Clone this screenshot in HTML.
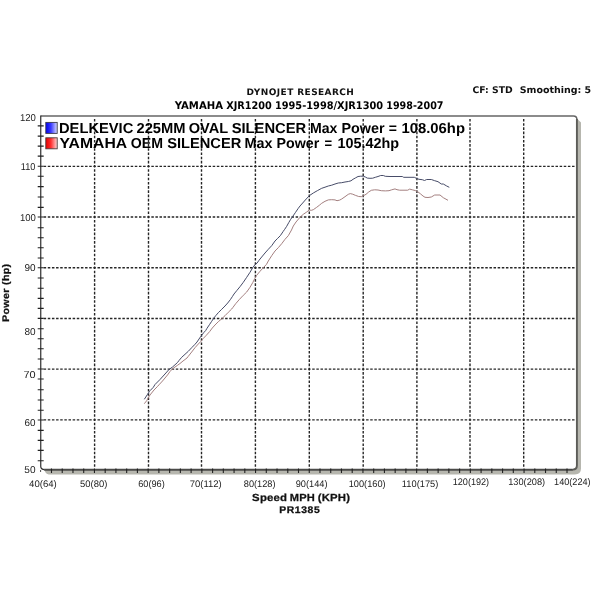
<!DOCTYPE html>
<html><head><meta charset="utf-8"><style>html,body{margin:0;padding:0;background:#fff;}svg{display:block}text{text-rendering:geometricPrecision}</style></head>
<body><svg width="600" height="600" viewBox="0 0 600 600">
<rect width="600" height="600" fill="#fff"/>
<path d="M576.4,118.1 L581.0,122.6 V468.6 Q581.0,474.5 574.9,474.5 H48.75 Q45.75,474.5 44.25,469.6 Z" fill="#b6b6ae"/>
<path d="M40.75,466.6 V116.1 H573.4 Q576.9,116.1 576.9,119.6 V465.6 Q576.9,469.6 572.9,469.6 H44.75 Q40.75,469.6 40.75,466.6" fill="#fff"/>
<path d="M94.6,118.98v2.60M94.6,123.17v2.60M94.6,127.35v2.60M94.6,131.53v2.60M94.6,135.72v2.60M94.6,139.90v2.60M94.6,144.08v2.60M94.6,148.27v2.60M94.6,152.45v2.60M94.6,156.63v2.60M94.6,160.82v2.60M94.6,165.00v2.60M94.6,169.22v2.60M94.6,173.45v2.60M94.6,177.68v2.60M94.6,181.90v2.60M94.6,186.12v2.60M94.6,190.35v2.60M94.6,194.57v2.60M94.6,198.80v2.60M94.6,203.02v2.60M94.6,207.25v2.60M94.6,211.47v2.60M94.6,215.70v2.60M94.6,219.92v2.60M94.6,224.15v2.60M94.6,228.38v2.60M94.6,232.60v2.60M94.6,236.82v2.60M94.6,241.05v2.60M94.6,245.27v2.60M94.6,249.50v2.60M94.6,253.72v2.60M94.6,257.95v2.60M94.6,262.17v2.60M94.6,266.40v2.60M94.6,270.63v2.60M94.6,274.87v2.60M94.6,279.10v2.60M94.6,283.33v2.60M94.6,287.57v2.60M94.6,291.80v2.60M94.6,296.03v2.60M94.6,300.27v2.60M94.6,304.50v2.60M94.6,308.73v2.60M94.6,312.97v2.60M94.6,317.20v2.60M94.6,321.42v2.60M94.6,325.63v2.60M94.6,329.85v2.60M94.6,334.07v2.60M94.6,338.28v2.60M94.6,342.50v2.60M94.6,346.72v2.60M94.6,350.93v2.60M94.6,355.15v2.60M94.6,359.37v2.60M94.6,363.58v2.60M94.6,367.80v2.60M94.6,372.03v2.60M94.6,376.25v2.60M94.6,380.48v2.60M94.6,384.70v2.60M94.6,388.93v2.60M94.6,393.15v2.60M94.6,397.38v2.60M94.6,401.60v2.60M94.6,405.82v2.60M94.6,410.05v2.60M94.6,414.27v2.60M94.6,418.50v2.60M94.6,422.65v2.60M94.6,426.80v2.60M94.6,430.95v2.60M94.6,435.10v2.60M94.6,439.25v2.60M94.6,443.40v2.60M94.6,447.55v2.60M94.6,451.70v2.60M94.6,455.85v2.60M94.6,460.00v2.60M94.6,464.15v2.60M148.5,118.98v2.60M148.5,123.17v2.60M148.5,127.35v2.60M148.5,131.53v2.60M148.5,135.72v2.60M148.5,139.90v2.60M148.5,144.08v2.60M148.5,148.27v2.60M148.5,152.45v2.60M148.5,156.63v2.60M148.5,160.82v2.60M148.5,165.00v2.60M148.5,169.22v2.60M148.5,173.45v2.60M148.5,177.68v2.60M148.5,181.90v2.60M148.5,186.12v2.60M148.5,190.35v2.60M148.5,194.57v2.60M148.5,198.80v2.60M148.5,203.02v2.60M148.5,207.25v2.60M148.5,211.47v2.60M148.5,215.70v2.60M148.5,219.92v2.60M148.5,224.15v2.60M148.5,228.38v2.60M148.5,232.60v2.60M148.5,236.82v2.60M148.5,241.05v2.60M148.5,245.27v2.60M148.5,249.50v2.60M148.5,253.72v2.60M148.5,257.95v2.60M148.5,262.17v2.60M148.5,266.40v2.60M148.5,270.63v2.60M148.5,274.87v2.60M148.5,279.10v2.60M148.5,283.33v2.60M148.5,287.57v2.60M148.5,291.80v2.60M148.5,296.03v2.60M148.5,300.27v2.60M148.5,304.50v2.60M148.5,308.73v2.60M148.5,312.97v2.60M148.5,317.20v2.60M148.5,321.42v2.60M148.5,325.63v2.60M148.5,329.85v2.60M148.5,334.07v2.60M148.5,338.28v2.60M148.5,342.50v2.60M148.5,346.72v2.60M148.5,350.93v2.60M148.5,355.15v2.60M148.5,359.37v2.60M148.5,363.58v2.60M148.5,367.80v2.60M148.5,372.03v2.60M148.5,376.25v2.60M148.5,380.48v2.60M148.5,384.70v2.60M148.5,388.93v2.60M148.5,393.15v2.60M148.5,397.38v2.60M148.5,401.60v2.60M148.5,405.82v2.60M148.5,410.05v2.60M148.5,414.27v2.60M148.5,418.50v2.60M148.5,422.65v2.60M148.5,426.80v2.60M148.5,430.95v2.60M148.5,435.10v2.60M148.5,439.25v2.60M148.5,443.40v2.60M148.5,447.55v2.60M148.5,451.70v2.60M148.5,455.85v2.60M148.5,460.00v2.60M148.5,464.15v2.60M201.5,118.98v2.60M201.5,123.17v2.60M201.5,127.35v2.60M201.5,131.53v2.60M201.5,135.72v2.60M201.5,139.90v2.60M201.5,144.08v2.60M201.5,148.27v2.60M201.5,152.45v2.60M201.5,156.63v2.60M201.5,160.82v2.60M201.5,165.00v2.60M201.5,169.22v2.60M201.5,173.45v2.60M201.5,177.68v2.60M201.5,181.90v2.60M201.5,186.12v2.60M201.5,190.35v2.60M201.5,194.57v2.60M201.5,198.80v2.60M201.5,203.02v2.60M201.5,207.25v2.60M201.5,211.47v2.60M201.5,215.70v2.60M201.5,219.92v2.60M201.5,224.15v2.60M201.5,228.38v2.60M201.5,232.60v2.60M201.5,236.82v2.60M201.5,241.05v2.60M201.5,245.27v2.60M201.5,249.50v2.60M201.5,253.72v2.60M201.5,257.95v2.60M201.5,262.17v2.60M201.5,266.40v2.60M201.5,270.63v2.60M201.5,274.87v2.60M201.5,279.10v2.60M201.5,283.33v2.60M201.5,287.57v2.60M201.5,291.80v2.60M201.5,296.03v2.60M201.5,300.27v2.60M201.5,304.50v2.60M201.5,308.73v2.60M201.5,312.97v2.60M201.5,317.20v2.60M201.5,321.42v2.60M201.5,325.63v2.60M201.5,329.85v2.60M201.5,334.07v2.60M201.5,338.28v2.60M201.5,342.50v2.60M201.5,346.72v2.60M201.5,350.93v2.60M201.5,355.15v2.60M201.5,359.37v2.60M201.5,363.58v2.60M201.5,367.80v2.60M201.5,372.03v2.60M201.5,376.25v2.60M201.5,380.48v2.60M201.5,384.70v2.60M201.5,388.93v2.60M201.5,393.15v2.60M201.5,397.38v2.60M201.5,401.60v2.60M201.5,405.82v2.60M201.5,410.05v2.60M201.5,414.27v2.60M201.5,418.50v2.60M201.5,422.65v2.60M201.5,426.80v2.60M201.5,430.95v2.60M201.5,435.10v2.60M201.5,439.25v2.60M201.5,443.40v2.60M201.5,447.55v2.60M201.5,451.70v2.60M201.5,455.85v2.60M201.5,460.00v2.60M201.5,464.15v2.60M255.4,118.98v2.60M255.4,123.17v2.60M255.4,127.35v2.60M255.4,131.53v2.60M255.4,135.72v2.60M255.4,139.90v2.60M255.4,144.08v2.60M255.4,148.27v2.60M255.4,152.45v2.60M255.4,156.63v2.60M255.4,160.82v2.60M255.4,165.00v2.60M255.4,169.22v2.60M255.4,173.45v2.60M255.4,177.68v2.60M255.4,181.90v2.60M255.4,186.12v2.60M255.4,190.35v2.60M255.4,194.57v2.60M255.4,198.80v2.60M255.4,203.02v2.60M255.4,207.25v2.60M255.4,211.47v2.60M255.4,215.70v2.60M255.4,219.92v2.60M255.4,224.15v2.60M255.4,228.38v2.60M255.4,232.60v2.60M255.4,236.82v2.60M255.4,241.05v2.60M255.4,245.27v2.60M255.4,249.50v2.60M255.4,253.72v2.60M255.4,257.95v2.60M255.4,262.17v2.60M255.4,266.40v2.60M255.4,270.63v2.60M255.4,274.87v2.60M255.4,279.10v2.60M255.4,283.33v2.60M255.4,287.57v2.60M255.4,291.80v2.60M255.4,296.03v2.60M255.4,300.27v2.60M255.4,304.50v2.60M255.4,308.73v2.60M255.4,312.97v2.60M255.4,317.20v2.60M255.4,321.42v2.60M255.4,325.63v2.60M255.4,329.85v2.60M255.4,334.07v2.60M255.4,338.28v2.60M255.4,342.50v2.60M255.4,346.72v2.60M255.4,350.93v2.60M255.4,355.15v2.60M255.4,359.37v2.60M255.4,363.58v2.60M255.4,367.80v2.60M255.4,372.03v2.60M255.4,376.25v2.60M255.4,380.48v2.60M255.4,384.70v2.60M255.4,388.93v2.60M255.4,393.15v2.60M255.4,397.38v2.60M255.4,401.60v2.60M255.4,405.82v2.60M255.4,410.05v2.60M255.4,414.27v2.60M255.4,418.50v2.60M255.4,422.65v2.60M255.4,426.80v2.60M255.4,430.95v2.60M255.4,435.10v2.60M255.4,439.25v2.60M255.4,443.40v2.60M255.4,447.55v2.60M255.4,451.70v2.60M255.4,455.85v2.60M255.4,460.00v2.60M255.4,464.15v2.60M309.3,118.98v2.60M309.3,123.17v2.60M309.3,127.35v2.60M309.3,131.53v2.60M309.3,135.72v2.60M309.3,139.90v2.60M309.3,144.08v2.60M309.3,148.27v2.60M309.3,152.45v2.60M309.3,156.63v2.60M309.3,160.82v2.60M309.3,165.00v2.60M309.3,169.22v2.60M309.3,173.45v2.60M309.3,177.68v2.60M309.3,181.90v2.60M309.3,186.12v2.60M309.3,190.35v2.60M309.3,194.57v2.60M309.3,198.80v2.60M309.3,203.02v2.60M309.3,207.25v2.60M309.3,211.47v2.60M309.3,215.70v2.60M309.3,219.92v2.60M309.3,224.15v2.60M309.3,228.38v2.60M309.3,232.60v2.60M309.3,236.82v2.60M309.3,241.05v2.60M309.3,245.27v2.60M309.3,249.50v2.60M309.3,253.72v2.60M309.3,257.95v2.60M309.3,262.17v2.60M309.3,266.40v2.60M309.3,270.63v2.60M309.3,274.87v2.60M309.3,279.10v2.60M309.3,283.33v2.60M309.3,287.57v2.60M309.3,291.80v2.60M309.3,296.03v2.60M309.3,300.27v2.60M309.3,304.50v2.60M309.3,308.73v2.60M309.3,312.97v2.60M309.3,317.20v2.60M309.3,321.42v2.60M309.3,325.63v2.60M309.3,329.85v2.60M309.3,334.07v2.60M309.3,338.28v2.60M309.3,342.50v2.60M309.3,346.72v2.60M309.3,350.93v2.60M309.3,355.15v2.60M309.3,359.37v2.60M309.3,363.58v2.60M309.3,367.80v2.60M309.3,372.03v2.60M309.3,376.25v2.60M309.3,380.48v2.60M309.3,384.70v2.60M309.3,388.93v2.60M309.3,393.15v2.60M309.3,397.38v2.60M309.3,401.60v2.60M309.3,405.82v2.60M309.3,410.05v2.60M309.3,414.27v2.60M309.3,418.50v2.60M309.3,422.65v2.60M309.3,426.80v2.60M309.3,430.95v2.60M309.3,435.10v2.60M309.3,439.25v2.60M309.3,443.40v2.60M309.3,447.55v2.60M309.3,451.70v2.60M309.3,455.85v2.60M309.3,460.00v2.60M309.3,464.15v2.60M363.2,118.98v2.60M363.2,123.17v2.60M363.2,127.35v2.60M363.2,131.53v2.60M363.2,135.72v2.60M363.2,139.90v2.60M363.2,144.08v2.60M363.2,148.27v2.60M363.2,152.45v2.60M363.2,156.63v2.60M363.2,160.82v2.60M363.2,165.00v2.60M363.2,169.22v2.60M363.2,173.45v2.60M363.2,177.68v2.60M363.2,181.90v2.60M363.2,186.12v2.60M363.2,190.35v2.60M363.2,194.57v2.60M363.2,198.80v2.60M363.2,203.02v2.60M363.2,207.25v2.60M363.2,211.47v2.60M363.2,215.70v2.60M363.2,219.92v2.60M363.2,224.15v2.60M363.2,228.38v2.60M363.2,232.60v2.60M363.2,236.82v2.60M363.2,241.05v2.60M363.2,245.27v2.60M363.2,249.50v2.60M363.2,253.72v2.60M363.2,257.95v2.60M363.2,262.17v2.60M363.2,266.40v2.60M363.2,270.63v2.60M363.2,274.87v2.60M363.2,279.10v2.60M363.2,283.33v2.60M363.2,287.57v2.60M363.2,291.80v2.60M363.2,296.03v2.60M363.2,300.27v2.60M363.2,304.50v2.60M363.2,308.73v2.60M363.2,312.97v2.60M363.2,317.20v2.60M363.2,321.42v2.60M363.2,325.63v2.60M363.2,329.85v2.60M363.2,334.07v2.60M363.2,338.28v2.60M363.2,342.50v2.60M363.2,346.72v2.60M363.2,350.93v2.60M363.2,355.15v2.60M363.2,359.37v2.60M363.2,363.58v2.60M363.2,367.80v2.60M363.2,372.03v2.60M363.2,376.25v2.60M363.2,380.48v2.60M363.2,384.70v2.60M363.2,388.93v2.60M363.2,393.15v2.60M363.2,397.38v2.60M363.2,401.60v2.60M363.2,405.82v2.60M363.2,410.05v2.60M363.2,414.27v2.60M363.2,418.50v2.60M363.2,422.65v2.60M363.2,426.80v2.60M363.2,430.95v2.60M363.2,435.10v2.60M363.2,439.25v2.60M363.2,443.40v2.60M363.2,447.55v2.60M363.2,451.70v2.60M363.2,455.85v2.60M363.2,460.00v2.60M363.2,464.15v2.60M416.9,118.98v2.60M416.9,123.17v2.60M416.9,127.35v2.60M416.9,131.53v2.60M416.9,135.72v2.60M416.9,139.90v2.60M416.9,144.08v2.60M416.9,148.27v2.60M416.9,152.45v2.60M416.9,156.63v2.60M416.9,160.82v2.60M416.9,165.00v2.60M416.9,169.22v2.60M416.9,173.45v2.60M416.9,177.68v2.60M416.9,181.90v2.60M416.9,186.12v2.60M416.9,190.35v2.60M416.9,194.57v2.60M416.9,198.80v2.60M416.9,203.02v2.60M416.9,207.25v2.60M416.9,211.47v2.60M416.9,215.70v2.60M416.9,219.92v2.60M416.9,224.15v2.60M416.9,228.38v2.60M416.9,232.60v2.60M416.9,236.82v2.60M416.9,241.05v2.60M416.9,245.27v2.60M416.9,249.50v2.60M416.9,253.72v2.60M416.9,257.95v2.60M416.9,262.17v2.60M416.9,266.40v2.60M416.9,270.63v2.60M416.9,274.87v2.60M416.9,279.10v2.60M416.9,283.33v2.60M416.9,287.57v2.60M416.9,291.80v2.60M416.9,296.03v2.60M416.9,300.27v2.60M416.9,304.50v2.60M416.9,308.73v2.60M416.9,312.97v2.60M416.9,317.20v2.60M416.9,321.42v2.60M416.9,325.63v2.60M416.9,329.85v2.60M416.9,334.07v2.60M416.9,338.28v2.60M416.9,342.50v2.60M416.9,346.72v2.60M416.9,350.93v2.60M416.9,355.15v2.60M416.9,359.37v2.60M416.9,363.58v2.60M416.9,367.80v2.60M416.9,372.03v2.60M416.9,376.25v2.60M416.9,380.48v2.60M416.9,384.70v2.60M416.9,388.93v2.60M416.9,393.15v2.60M416.9,397.38v2.60M416.9,401.60v2.60M416.9,405.82v2.60M416.9,410.05v2.60M416.9,414.27v2.60M416.9,418.50v2.60M416.9,422.65v2.60M416.9,426.80v2.60M416.9,430.95v2.60M416.9,435.10v2.60M416.9,439.25v2.60M416.9,443.40v2.60M416.9,447.55v2.60M416.9,451.70v2.60M416.9,455.85v2.60M416.9,460.00v2.60M416.9,464.15v2.60M470.0,118.98v2.60M470.0,123.17v2.60M470.0,127.35v2.60M470.0,131.53v2.60M470.0,135.72v2.60M470.0,139.90v2.60M470.0,144.08v2.60M470.0,148.27v2.60M470.0,152.45v2.60M470.0,156.63v2.60M470.0,160.82v2.60M470.0,165.00v2.60M470.0,169.22v2.60M470.0,173.45v2.60M470.0,177.68v2.60M470.0,181.90v2.60M470.0,186.12v2.60M470.0,190.35v2.60M470.0,194.57v2.60M470.0,198.80v2.60M470.0,203.02v2.60M470.0,207.25v2.60M470.0,211.47v2.60M470.0,215.70v2.60M470.0,219.92v2.60M470.0,224.15v2.60M470.0,228.38v2.60M470.0,232.60v2.60M470.0,236.82v2.60M470.0,241.05v2.60M470.0,245.27v2.60M470.0,249.50v2.60M470.0,253.72v2.60M470.0,257.95v2.60M470.0,262.17v2.60M470.0,266.40v2.60M470.0,270.63v2.60M470.0,274.87v2.60M470.0,279.10v2.60M470.0,283.33v2.60M470.0,287.57v2.60M470.0,291.80v2.60M470.0,296.03v2.60M470.0,300.27v2.60M470.0,304.50v2.60M470.0,308.73v2.60M470.0,312.97v2.60M470.0,317.20v2.60M470.0,321.42v2.60M470.0,325.63v2.60M470.0,329.85v2.60M470.0,334.07v2.60M470.0,338.28v2.60M470.0,342.50v2.60M470.0,346.72v2.60M470.0,350.93v2.60M470.0,355.15v2.60M470.0,359.37v2.60M470.0,363.58v2.60M470.0,367.80v2.60M470.0,372.03v2.60M470.0,376.25v2.60M470.0,380.48v2.60M470.0,384.70v2.60M470.0,388.93v2.60M470.0,393.15v2.60M470.0,397.38v2.60M470.0,401.60v2.60M470.0,405.82v2.60M470.0,410.05v2.60M470.0,414.27v2.60M470.0,418.50v2.60M470.0,422.65v2.60M470.0,426.80v2.60M470.0,430.95v2.60M470.0,435.10v2.60M470.0,439.25v2.60M470.0,443.40v2.60M470.0,447.55v2.60M470.0,451.70v2.60M470.0,455.85v2.60M470.0,460.00v2.60M470.0,464.15v2.60M523.7,118.98v2.60M523.7,123.17v2.60M523.7,127.35v2.60M523.7,131.53v2.60M523.7,135.72v2.60M523.7,139.90v2.60M523.7,144.08v2.60M523.7,148.27v2.60M523.7,152.45v2.60M523.7,156.63v2.60M523.7,160.82v2.60M523.7,165.00v2.60M523.7,169.22v2.60M523.7,173.45v2.60M523.7,177.68v2.60M523.7,181.90v2.60M523.7,186.12v2.60M523.7,190.35v2.60M523.7,194.57v2.60M523.7,198.80v2.60M523.7,203.02v2.60M523.7,207.25v2.60M523.7,211.47v2.60M523.7,215.70v2.60M523.7,219.92v2.60M523.7,224.15v2.60M523.7,228.38v2.60M523.7,232.60v2.60M523.7,236.82v2.60M523.7,241.05v2.60M523.7,245.27v2.60M523.7,249.50v2.60M523.7,253.72v2.60M523.7,257.95v2.60M523.7,262.17v2.60M523.7,266.40v2.60M523.7,270.63v2.60M523.7,274.87v2.60M523.7,279.10v2.60M523.7,283.33v2.60M523.7,287.57v2.60M523.7,291.80v2.60M523.7,296.03v2.60M523.7,300.27v2.60M523.7,304.50v2.60M523.7,308.73v2.60M523.7,312.97v2.60M523.7,317.20v2.60M523.7,321.42v2.60M523.7,325.63v2.60M523.7,329.85v2.60M523.7,334.07v2.60M523.7,338.28v2.60M523.7,342.50v2.60M523.7,346.72v2.60M523.7,350.93v2.60M523.7,355.15v2.60M523.7,359.37v2.60M523.7,363.58v2.60M523.7,367.80v2.60M523.7,372.03v2.60M523.7,376.25v2.60M523.7,380.48v2.60M523.7,384.70v2.60M523.7,388.93v2.60M523.7,393.15v2.60M523.7,397.38v2.60M523.7,401.60v2.60M523.7,405.82v2.60M523.7,410.05v2.60M523.7,414.27v2.60M523.7,418.50v2.60M523.7,422.65v2.60M523.7,426.80v2.60M523.7,430.95v2.60M523.7,435.10v2.60M523.7,439.25v2.60M523.7,443.40v2.60M523.7,447.55v2.60M523.7,451.70v2.60M523.7,455.85v2.60M523.7,460.00v2.60M523.7,464.15v2.60" stroke="#262626" stroke-width="1.4" fill="none"/>
<path d="M43.64,166.3h2.50M47.78,166.3h2.50M51.93,166.3h2.50M56.07,166.3h2.50M60.21,166.3h2.50M64.35,166.3h2.50M68.50,166.3h2.50M72.64,166.3h2.50M76.78,166.3h2.50M80.92,166.3h2.50M85.07,166.3h2.50M89.21,166.3h2.50M93.35,166.3h2.50M97.50,166.3h2.50M101.64,166.3h2.50M105.79,166.3h2.50M109.93,166.3h2.50M114.08,166.3h2.50M118.23,166.3h2.50M122.37,166.3h2.50M126.52,166.3h2.50M130.67,166.3h2.50M134.81,166.3h2.50M138.96,166.3h2.50M143.10,166.3h2.50M147.25,166.3h2.50M151.33,166.3h2.50M155.40,166.3h2.50M159.48,166.3h2.50M163.56,166.3h2.50M167.63,166.3h2.50M171.71,166.3h2.50M175.79,166.3h2.50M179.87,166.3h2.50M183.94,166.3h2.50M188.02,166.3h2.50M192.10,166.3h2.50M196.17,166.3h2.50M200.25,166.3h2.50M204.40,166.3h2.50M208.54,166.3h2.50M212.69,166.3h2.50M216.83,166.3h2.50M220.98,166.3h2.50M225.13,166.3h2.50M229.27,166.3h2.50M233.42,166.3h2.50M237.57,166.3h2.50M241.71,166.3h2.50M245.86,166.3h2.50M250.00,166.3h2.50M254.15,166.3h2.50M258.30,166.3h2.50M262.44,166.3h2.50M266.59,166.3h2.50M270.73,166.3h2.50M274.88,166.3h2.50M279.03,166.3h2.50M283.17,166.3h2.50M287.32,166.3h2.50M291.47,166.3h2.50M295.61,166.3h2.50M299.76,166.3h2.50M303.90,166.3h2.50M308.05,166.3h2.50M312.20,166.3h2.50M316.34,166.3h2.50M320.49,166.3h2.50M324.63,166.3h2.50M328.78,166.3h2.50M332.93,166.3h2.50M337.07,166.3h2.50M341.22,166.3h2.50M345.37,166.3h2.50M349.51,166.3h2.50M353.66,166.3h2.50M357.80,166.3h2.50M361.95,166.3h2.50M366.08,166.3h2.50M370.21,166.3h2.50M374.34,166.3h2.50M378.47,166.3h2.50M382.60,166.3h2.50M386.73,166.3h2.50M390.87,166.3h2.50M395.00,166.3h2.50M399.13,166.3h2.50M403.26,166.3h2.50M407.39,166.3h2.50M411.52,166.3h2.50M415.65,166.3h2.50M419.73,166.3h2.50M423.82,166.3h2.50M427.90,166.3h2.50M431.99,166.3h2.50M436.07,166.3h2.50M440.16,166.3h2.50M444.24,166.3h2.50M448.33,166.3h2.50M452.41,166.3h2.50M456.50,166.3h2.50M460.58,166.3h2.50M464.67,166.3h2.50M468.75,166.3h2.50M472.88,166.3h2.50M477.01,166.3h2.50M481.14,166.3h2.50M485.27,166.3h2.50M489.40,166.3h2.50M493.53,166.3h2.50M497.67,166.3h2.50M501.80,166.3h2.50M505.93,166.3h2.50M510.06,166.3h2.50M514.19,166.3h2.50M518.32,166.3h2.50M522.45,166.3h2.50M526.58,166.3h2.50M530.71,166.3h2.50M534.84,166.3h2.50M538.97,166.3h2.50M543.10,166.3h2.50M547.23,166.3h2.50M551.37,166.3h2.50M555.50,166.3h2.50M559.63,166.3h2.50M563.76,166.3h2.50M567.89,166.3h2.50M572.02,166.3h2.50M43.64,217.0h2.50M47.78,217.0h2.50M51.93,217.0h2.50M56.07,217.0h2.50M60.21,217.0h2.50M64.35,217.0h2.50M68.50,217.0h2.50M72.64,217.0h2.50M76.78,217.0h2.50M80.92,217.0h2.50M85.07,217.0h2.50M89.21,217.0h2.50M93.35,217.0h2.50M97.50,217.0h2.50M101.64,217.0h2.50M105.79,217.0h2.50M109.93,217.0h2.50M114.08,217.0h2.50M118.23,217.0h2.50M122.37,217.0h2.50M126.52,217.0h2.50M130.67,217.0h2.50M134.81,217.0h2.50M138.96,217.0h2.50M143.10,217.0h2.50M147.25,217.0h2.50M151.33,217.0h2.50M155.40,217.0h2.50M159.48,217.0h2.50M163.56,217.0h2.50M167.63,217.0h2.50M171.71,217.0h2.50M175.79,217.0h2.50M179.87,217.0h2.50M183.94,217.0h2.50M188.02,217.0h2.50M192.10,217.0h2.50M196.17,217.0h2.50M200.25,217.0h2.50M204.40,217.0h2.50M208.54,217.0h2.50M212.69,217.0h2.50M216.83,217.0h2.50M220.98,217.0h2.50M225.13,217.0h2.50M229.27,217.0h2.50M233.42,217.0h2.50M237.57,217.0h2.50M241.71,217.0h2.50M245.86,217.0h2.50M250.00,217.0h2.50M254.15,217.0h2.50M258.30,217.0h2.50M262.44,217.0h2.50M266.59,217.0h2.50M270.73,217.0h2.50M274.88,217.0h2.50M279.03,217.0h2.50M283.17,217.0h2.50M287.32,217.0h2.50M291.47,217.0h2.50M295.61,217.0h2.50M299.76,217.0h2.50M303.90,217.0h2.50M308.05,217.0h2.50M312.20,217.0h2.50M316.34,217.0h2.50M320.49,217.0h2.50M324.63,217.0h2.50M328.78,217.0h2.50M332.93,217.0h2.50M337.07,217.0h2.50M341.22,217.0h2.50M345.37,217.0h2.50M349.51,217.0h2.50M353.66,217.0h2.50M357.80,217.0h2.50M361.95,217.0h2.50M366.08,217.0h2.50M370.21,217.0h2.50M374.34,217.0h2.50M378.47,217.0h2.50M382.60,217.0h2.50M386.73,217.0h2.50M390.87,217.0h2.50M395.00,217.0h2.50M399.13,217.0h2.50M403.26,217.0h2.50M407.39,217.0h2.50M411.52,217.0h2.50M415.65,217.0h2.50M419.73,217.0h2.50M423.82,217.0h2.50M427.90,217.0h2.50M431.99,217.0h2.50M436.07,217.0h2.50M440.16,217.0h2.50M444.24,217.0h2.50M448.33,217.0h2.50M452.41,217.0h2.50M456.50,217.0h2.50M460.58,217.0h2.50M464.67,217.0h2.50M468.75,217.0h2.50M472.88,217.0h2.50M477.01,217.0h2.50M481.14,217.0h2.50M485.27,217.0h2.50M489.40,217.0h2.50M493.53,217.0h2.50M497.67,217.0h2.50M501.80,217.0h2.50M505.93,217.0h2.50M510.06,217.0h2.50M514.19,217.0h2.50M518.32,217.0h2.50M522.45,217.0h2.50M526.58,217.0h2.50M530.71,217.0h2.50M534.84,217.0h2.50M538.97,217.0h2.50M543.10,217.0h2.50M547.23,217.0h2.50M551.37,217.0h2.50M555.50,217.0h2.50M559.63,217.0h2.50M563.76,217.0h2.50M567.89,217.0h2.50M572.02,217.0h2.50M43.64,267.7h2.50M47.78,267.7h2.50M51.93,267.7h2.50M56.07,267.7h2.50M60.21,267.7h2.50M64.35,267.7h2.50M68.50,267.7h2.50M72.64,267.7h2.50M76.78,267.7h2.50M80.92,267.7h2.50M85.07,267.7h2.50M89.21,267.7h2.50M93.35,267.7h2.50M97.50,267.7h2.50M101.64,267.7h2.50M105.79,267.7h2.50M109.93,267.7h2.50M114.08,267.7h2.50M118.23,267.7h2.50M122.37,267.7h2.50M126.52,267.7h2.50M130.67,267.7h2.50M134.81,267.7h2.50M138.96,267.7h2.50M143.10,267.7h2.50M147.25,267.7h2.50M151.33,267.7h2.50M155.40,267.7h2.50M159.48,267.7h2.50M163.56,267.7h2.50M167.63,267.7h2.50M171.71,267.7h2.50M175.79,267.7h2.50M179.87,267.7h2.50M183.94,267.7h2.50M188.02,267.7h2.50M192.10,267.7h2.50M196.17,267.7h2.50M200.25,267.7h2.50M204.40,267.7h2.50M208.54,267.7h2.50M212.69,267.7h2.50M216.83,267.7h2.50M220.98,267.7h2.50M225.13,267.7h2.50M229.27,267.7h2.50M233.42,267.7h2.50M237.57,267.7h2.50M241.71,267.7h2.50M245.86,267.7h2.50M250.00,267.7h2.50M254.15,267.7h2.50M258.30,267.7h2.50M262.44,267.7h2.50M266.59,267.7h2.50M270.73,267.7h2.50M274.88,267.7h2.50M279.03,267.7h2.50M283.17,267.7h2.50M287.32,267.7h2.50M291.47,267.7h2.50M295.61,267.7h2.50M299.76,267.7h2.50M303.90,267.7h2.50M308.05,267.7h2.50M312.20,267.7h2.50M316.34,267.7h2.50M320.49,267.7h2.50M324.63,267.7h2.50M328.78,267.7h2.50M332.93,267.7h2.50M337.07,267.7h2.50M341.22,267.7h2.50M345.37,267.7h2.50M349.51,267.7h2.50M353.66,267.7h2.50M357.80,267.7h2.50M361.95,267.7h2.50M366.08,267.7h2.50M370.21,267.7h2.50M374.34,267.7h2.50M378.47,267.7h2.50M382.60,267.7h2.50M386.73,267.7h2.50M390.87,267.7h2.50M395.00,267.7h2.50M399.13,267.7h2.50M403.26,267.7h2.50M407.39,267.7h2.50M411.52,267.7h2.50M415.65,267.7h2.50M419.73,267.7h2.50M423.82,267.7h2.50M427.90,267.7h2.50M431.99,267.7h2.50M436.07,267.7h2.50M440.16,267.7h2.50M444.24,267.7h2.50M448.33,267.7h2.50M452.41,267.7h2.50M456.50,267.7h2.50M460.58,267.7h2.50M464.67,267.7h2.50M468.75,267.7h2.50M472.88,267.7h2.50M477.01,267.7h2.50M481.14,267.7h2.50M485.27,267.7h2.50M489.40,267.7h2.50M493.53,267.7h2.50M497.67,267.7h2.50M501.80,267.7h2.50M505.93,267.7h2.50M510.06,267.7h2.50M514.19,267.7h2.50M518.32,267.7h2.50M522.45,267.7h2.50M526.58,267.7h2.50M530.71,267.7h2.50M534.84,267.7h2.50M538.97,267.7h2.50M543.10,267.7h2.50M547.23,267.7h2.50M551.37,267.7h2.50M555.50,267.7h2.50M559.63,267.7h2.50M563.76,267.7h2.50M567.89,267.7h2.50M572.02,267.7h2.50M43.64,318.5h2.50M47.78,318.5h2.50M51.93,318.5h2.50M56.07,318.5h2.50M60.21,318.5h2.50M64.35,318.5h2.50M68.50,318.5h2.50M72.64,318.5h2.50M76.78,318.5h2.50M80.92,318.5h2.50M85.07,318.5h2.50M89.21,318.5h2.50M93.35,318.5h2.50M97.50,318.5h2.50M101.64,318.5h2.50M105.79,318.5h2.50M109.93,318.5h2.50M114.08,318.5h2.50M118.23,318.5h2.50M122.37,318.5h2.50M126.52,318.5h2.50M130.67,318.5h2.50M134.81,318.5h2.50M138.96,318.5h2.50M143.10,318.5h2.50M147.25,318.5h2.50M151.33,318.5h2.50M155.40,318.5h2.50M159.48,318.5h2.50M163.56,318.5h2.50M167.63,318.5h2.50M171.71,318.5h2.50M175.79,318.5h2.50M179.87,318.5h2.50M183.94,318.5h2.50M188.02,318.5h2.50M192.10,318.5h2.50M196.17,318.5h2.50M200.25,318.5h2.50M204.40,318.5h2.50M208.54,318.5h2.50M212.69,318.5h2.50M216.83,318.5h2.50M220.98,318.5h2.50M225.13,318.5h2.50M229.27,318.5h2.50M233.42,318.5h2.50M237.57,318.5h2.50M241.71,318.5h2.50M245.86,318.5h2.50M250.00,318.5h2.50M254.15,318.5h2.50M258.30,318.5h2.50M262.44,318.5h2.50M266.59,318.5h2.50M270.73,318.5h2.50M274.88,318.5h2.50M279.03,318.5h2.50M283.17,318.5h2.50M287.32,318.5h2.50M291.47,318.5h2.50M295.61,318.5h2.50M299.76,318.5h2.50M303.90,318.5h2.50M308.05,318.5h2.50M312.20,318.5h2.50M316.34,318.5h2.50M320.49,318.5h2.50M324.63,318.5h2.50M328.78,318.5h2.50M332.93,318.5h2.50M337.07,318.5h2.50M341.22,318.5h2.50M345.37,318.5h2.50M349.51,318.5h2.50M353.66,318.5h2.50M357.80,318.5h2.50M361.95,318.5h2.50M366.08,318.5h2.50M370.21,318.5h2.50M374.34,318.5h2.50M378.47,318.5h2.50M382.60,318.5h2.50M386.73,318.5h2.50M390.87,318.5h2.50M395.00,318.5h2.50M399.13,318.5h2.50M403.26,318.5h2.50M407.39,318.5h2.50M411.52,318.5h2.50M415.65,318.5h2.50M419.73,318.5h2.50M423.82,318.5h2.50M427.90,318.5h2.50M431.99,318.5h2.50M436.07,318.5h2.50M440.16,318.5h2.50M444.24,318.5h2.50M448.33,318.5h2.50M452.41,318.5h2.50M456.50,318.5h2.50M460.58,318.5h2.50M464.67,318.5h2.50M468.75,318.5h2.50M472.88,318.5h2.50M477.01,318.5h2.50M481.14,318.5h2.50M485.27,318.5h2.50M489.40,318.5h2.50M493.53,318.5h2.50M497.67,318.5h2.50M501.80,318.5h2.50M505.93,318.5h2.50M510.06,318.5h2.50M514.19,318.5h2.50M518.32,318.5h2.50M522.45,318.5h2.50M526.58,318.5h2.50M530.71,318.5h2.50M534.84,318.5h2.50M538.97,318.5h2.50M543.10,318.5h2.50M547.23,318.5h2.50M551.37,318.5h2.50M555.50,318.5h2.50M559.63,318.5h2.50M563.76,318.5h2.50M567.89,318.5h2.50M572.02,318.5h2.50M43.64,369.1h2.50M47.78,369.1h2.50M51.93,369.1h2.50M56.07,369.1h2.50M60.21,369.1h2.50M64.35,369.1h2.50M68.50,369.1h2.50M72.64,369.1h2.50M76.78,369.1h2.50M80.92,369.1h2.50M85.07,369.1h2.50M89.21,369.1h2.50M93.35,369.1h2.50M97.50,369.1h2.50M101.64,369.1h2.50M105.79,369.1h2.50M109.93,369.1h2.50M114.08,369.1h2.50M118.23,369.1h2.50M122.37,369.1h2.50M126.52,369.1h2.50M130.67,369.1h2.50M134.81,369.1h2.50M138.96,369.1h2.50M143.10,369.1h2.50M147.25,369.1h2.50M151.33,369.1h2.50M155.40,369.1h2.50M159.48,369.1h2.50M163.56,369.1h2.50M167.63,369.1h2.50M171.71,369.1h2.50M175.79,369.1h2.50M179.87,369.1h2.50M183.94,369.1h2.50M188.02,369.1h2.50M192.10,369.1h2.50M196.17,369.1h2.50M200.25,369.1h2.50M204.40,369.1h2.50M208.54,369.1h2.50M212.69,369.1h2.50M216.83,369.1h2.50M220.98,369.1h2.50M225.13,369.1h2.50M229.27,369.1h2.50M233.42,369.1h2.50M237.57,369.1h2.50M241.71,369.1h2.50M245.86,369.1h2.50M250.00,369.1h2.50M254.15,369.1h2.50M258.30,369.1h2.50M262.44,369.1h2.50M266.59,369.1h2.50M270.73,369.1h2.50M274.88,369.1h2.50M279.03,369.1h2.50M283.17,369.1h2.50M287.32,369.1h2.50M291.47,369.1h2.50M295.61,369.1h2.50M299.76,369.1h2.50M303.90,369.1h2.50M308.05,369.1h2.50M312.20,369.1h2.50M316.34,369.1h2.50M320.49,369.1h2.50M324.63,369.1h2.50M328.78,369.1h2.50M332.93,369.1h2.50M337.07,369.1h2.50M341.22,369.1h2.50M345.37,369.1h2.50M349.51,369.1h2.50M353.66,369.1h2.50M357.80,369.1h2.50M361.95,369.1h2.50M366.08,369.1h2.50M370.21,369.1h2.50M374.34,369.1h2.50M378.47,369.1h2.50M382.60,369.1h2.50M386.73,369.1h2.50M390.87,369.1h2.50M395.00,369.1h2.50M399.13,369.1h2.50M403.26,369.1h2.50M407.39,369.1h2.50M411.52,369.1h2.50M415.65,369.1h2.50M419.73,369.1h2.50M423.82,369.1h2.50M427.90,369.1h2.50M431.99,369.1h2.50M436.07,369.1h2.50M440.16,369.1h2.50M444.24,369.1h2.50M448.33,369.1h2.50M452.41,369.1h2.50M456.50,369.1h2.50M460.58,369.1h2.50M464.67,369.1h2.50M468.75,369.1h2.50M472.88,369.1h2.50M477.01,369.1h2.50M481.14,369.1h2.50M485.27,369.1h2.50M489.40,369.1h2.50M493.53,369.1h2.50M497.67,369.1h2.50M501.80,369.1h2.50M505.93,369.1h2.50M510.06,369.1h2.50M514.19,369.1h2.50M518.32,369.1h2.50M522.45,369.1h2.50M526.58,369.1h2.50M530.71,369.1h2.50M534.84,369.1h2.50M538.97,369.1h2.50M543.10,369.1h2.50M547.23,369.1h2.50M551.37,369.1h2.50M555.50,369.1h2.50M559.63,369.1h2.50M563.76,369.1h2.50M567.89,369.1h2.50M572.02,369.1h2.50M43.64,419.8h2.50M47.78,419.8h2.50M51.93,419.8h2.50M56.07,419.8h2.50M60.21,419.8h2.50M64.35,419.8h2.50M68.50,419.8h2.50M72.64,419.8h2.50M76.78,419.8h2.50M80.92,419.8h2.50M85.07,419.8h2.50M89.21,419.8h2.50M93.35,419.8h2.50M97.50,419.8h2.50M101.64,419.8h2.50M105.79,419.8h2.50M109.93,419.8h2.50M114.08,419.8h2.50M118.23,419.8h2.50M122.37,419.8h2.50M126.52,419.8h2.50M130.67,419.8h2.50M134.81,419.8h2.50M138.96,419.8h2.50M143.10,419.8h2.50M147.25,419.8h2.50M151.33,419.8h2.50M155.40,419.8h2.50M159.48,419.8h2.50M163.56,419.8h2.50M167.63,419.8h2.50M171.71,419.8h2.50M175.79,419.8h2.50M179.87,419.8h2.50M183.94,419.8h2.50M188.02,419.8h2.50M192.10,419.8h2.50M196.17,419.8h2.50M200.25,419.8h2.50M204.40,419.8h2.50M208.54,419.8h2.50M212.69,419.8h2.50M216.83,419.8h2.50M220.98,419.8h2.50M225.13,419.8h2.50M229.27,419.8h2.50M233.42,419.8h2.50M237.57,419.8h2.50M241.71,419.8h2.50M245.86,419.8h2.50M250.00,419.8h2.50M254.15,419.8h2.50M258.30,419.8h2.50M262.44,419.8h2.50M266.59,419.8h2.50M270.73,419.8h2.50M274.88,419.8h2.50M279.03,419.8h2.50M283.17,419.8h2.50M287.32,419.8h2.50M291.47,419.8h2.50M295.61,419.8h2.50M299.76,419.8h2.50M303.90,419.8h2.50M308.05,419.8h2.50M312.20,419.8h2.50M316.34,419.8h2.50M320.49,419.8h2.50M324.63,419.8h2.50M328.78,419.8h2.50M332.93,419.8h2.50M337.07,419.8h2.50M341.22,419.8h2.50M345.37,419.8h2.50M349.51,419.8h2.50M353.66,419.8h2.50M357.80,419.8h2.50M361.95,419.8h2.50M366.08,419.8h2.50M370.21,419.8h2.50M374.34,419.8h2.50M378.47,419.8h2.50M382.60,419.8h2.50M386.73,419.8h2.50M390.87,419.8h2.50M395.00,419.8h2.50M399.13,419.8h2.50M403.26,419.8h2.50M407.39,419.8h2.50M411.52,419.8h2.50M415.65,419.8h2.50M419.73,419.8h2.50M423.82,419.8h2.50M427.90,419.8h2.50M431.99,419.8h2.50M436.07,419.8h2.50M440.16,419.8h2.50M444.24,419.8h2.50M448.33,419.8h2.50M452.41,419.8h2.50M456.50,419.8h2.50M460.58,419.8h2.50M464.67,419.8h2.50M468.75,419.8h2.50M472.88,419.8h2.50M477.01,419.8h2.50M481.14,419.8h2.50M485.27,419.8h2.50M489.40,419.8h2.50M493.53,419.8h2.50M497.67,419.8h2.50M501.80,419.8h2.50M505.93,419.8h2.50M510.06,419.8h2.50M514.19,419.8h2.50M518.32,419.8h2.50M522.45,419.8h2.50M526.58,419.8h2.50M530.71,419.8h2.50M534.84,419.8h2.50M538.97,419.8h2.50M543.10,419.8h2.50M547.23,419.8h2.50M551.37,419.8h2.50M555.50,419.8h2.50M559.63,419.8h2.50M563.76,419.8h2.50M567.89,419.8h2.50M572.02,419.8h2.50" stroke="#262626" stroke-width="1.35" fill="none"/>
<path d="M40.75,116.1 H573.4 Q576.9,116.1 576.9,119.6" stroke="#666" stroke-width="1.5" fill="none"/>
<path d="M576.9,119.1 V465.6 Q576.9,469.6 572.9,469.6" stroke="#5c5c58" stroke-width="1.9" fill="none"/>
<path d="M40.75,115.6 V466.6 Q40.75,469.6 44.75,469.6" stroke="#2e2e2e" stroke-width="1.2" fill="none"/>
<path d="M44.25,469.8 H572.9" stroke="#4a4a48" stroke-width="2" fill="none"/>
<rect x="40" y="470.2" width="1.1" height="1.6" fill="#333"/>
<path d="M37.7,125.90H43.7M37.7,136.10H43.7M37.7,146.10H43.7M37.7,156.10H43.7M37.7,166.30H43.7M37.7,176.30H43.7M37.7,186.60H43.7M37.7,197.00H43.7M37.7,207.40H43.7M37.7,217.00H43.7M37.7,227.70H43.7M37.7,237.70H43.7M37.7,247.70H43.7M37.7,258.00H43.7M37.7,267.70H43.7M37.7,278.00H43.7M37.7,288.30H43.7M37.7,298.40H43.7M37.7,308.40H43.7M37.7,318.40H43.7M37.7,328.70H43.7M37.7,338.70H43.7M37.7,348.70H43.7M37.7,359.00H43.7M37.7,369.00H43.7M37.7,379.00H43.7M37.7,389.70H43.7M37.7,400.00H43.7M37.7,410.30H43.7M37.7,420.00H43.7M37.7,430.40H43.7M37.7,440.40H43.7M37.7,450.40H43.7M37.7,460.70H43.7M51.49,468.5V472.9M62.23,468.5V472.9M72.97,468.5V472.9M83.71,468.5V472.9M94.45,468.5V472.9M105.19,468.5V472.9M115.93,468.5V472.9M126.67,468.5V472.9M137.41,468.5V472.9M148.15,468.5V472.9M158.89,468.5V472.9M169.63,468.5V472.9M180.37,468.5V472.9M191.11,468.5V472.9M201.85,468.5V472.9M212.59,468.5V472.9M223.33,468.5V472.9M234.07,468.5V472.9M244.81,468.5V472.9M255.55,468.5V472.9M266.29,468.5V472.9M277.03,468.5V472.9M287.77,468.5V472.9M298.51,468.5V472.9M309.25,468.5V472.9M319.99,468.5V472.9M330.73,468.5V472.9M341.47,468.5V472.9M352.21,468.5V472.9M362.95,468.5V472.9M373.69,468.5V472.9M384.43,468.5V472.9M395.17,468.5V472.9M405.91,468.5V472.9M416.65,468.5V472.9M427.39,468.5V472.9M438.13,468.5V472.9M448.87,468.5V472.9M459.61,468.5V472.9M470.35,468.5V472.9M481.09,468.5V472.9M491.83,468.5V472.9M502.57,468.5V472.9M513.31,468.5V472.9M524.05,468.5V472.9M534.79,468.5V472.9M545.53,468.5V472.9M556.27,468.5V472.9M567.01,468.5V472.9" stroke="#222" stroke-width="1.1" fill="none"/>
<polyline points="144.3,403.7 146.7,400.7 148.7,397.0 150.0,395.0 154.0,390.0 157.3,386.7 159.0,384.8 162.5,381.0 165.0,378.0 167.5,375.0 170.0,371.5 172.5,368.8 175.0,367.0 177.5,365.3 180.0,363.5 183.0,361.0 187.0,358.0 188.3,356.3 191.7,352.0 195.0,347.7 198.3,344.0 201.0,341.3 203.0,338.7 206.3,335.3 209.7,331.5 212.3,328.0 215.0,325.0 218.3,321.7 222.3,318.3 225.0,315.7 228.3,312.3 231.7,309.0 233.0,307.3 235.7,303.7 239.5,299.3 243.3,295.3 246.7,292.0 250.0,287.3 252.7,282.7 254.7,278.7 256.7,275.3 260.0,271.3 263.3,267.7 266.5,264.3 268.3,261.0 271.7,255.7 275.0,251.0 278.3,247.7 281.7,243.7 285.0,239.3 288.3,235.7 291.5,230.0 293.3,226.0 296.0,222.0 300.0,217.3 303.3,214.3 306.7,212.0 309.3,210.0 311.3,210.3 313.3,209.7 316.7,207.3 319.3,205.3 321.7,203.3 325.0,201.3 328.3,199.9 331.7,199.7 335.0,199.9 337.0,200.7 339.7,200.1 341.7,199.0 345.0,196.7 348.3,194.3 350.3,193.6 352.7,194.2 355.3,195.3 358.7,196.5 361.3,196.7 363.3,195.8 366.0,194.3 368.7,192.0 371.3,190.3 374.7,189.8 378.0,190.0 381.3,190.7 385.3,190.9 389.0,190.7 391.7,189.8 395.0,188.9 397.0,189.7 399.7,190.2 407.7,190.2 409.7,189.1 412.3,189.8 415.7,190.7 417.7,191.7 420.3,193.7 423.0,196.0 425.0,197.3 428.0,197.5 431.3,197.0 434.7,195.0 440.0,195.0 443.3,197.7 448.0,200.3" stroke="#a48080" stroke-width="1.0" fill="none" stroke-linejoin="round"/>
<polyline points="144.3,399.3 147.3,394.7 149.3,391.7 150.0,390.7 153.3,387.3 155.0,384.5 160.0,379.5 165.0,374.0 169.0,369.5 172.5,367.0 175.0,364.8 177.5,362.5 179.0,360.5 181.7,357.3 185.0,354.3 188.3,351.3 191.7,347.7 195.0,344.3 197.0,342.0 199.7,338.0 201.7,335.3 203.7,332.7 205.7,330.5 207.0,328.3 209.7,324.3 211.7,321.3 213.7,318.3 215.7,315.7 218.3,312.7 221.7,309.3 225.0,306.0 227.7,303.0 230.3,299.7 232.3,296.7 234.0,294.0 236.7,290.7 240.0,286.7 243.3,282.3 246.7,277.3 250.0,272.3 252.7,267.7 255.3,264.3 257.0,263.2 259.0,260.3 261.7,257.0 265.0,253.0 268.3,249.3 271.7,245.7 275.0,241.0 277.7,238.3 280.3,235.7 283.0,231.7 284.7,229.3 286.7,226.3 288.7,222.7 290.7,219.3 292.3,217.0 295.3,212.7 298.0,208.7 300.0,206.0 302.7,203.0 305.3,200.0 309.3,195.7 313.3,193.0 317.3,190.7 321.7,188.3 325.0,187.2 328.3,186.0 331.7,185.2 335.0,184.0 338.3,183.0 341.7,182.7 345.0,182.0 348.3,181.5 351.0,180.8 353.0,179.3 355.3,178.0 358.0,176.5 360.7,176.2 363.3,176.2 365.3,177.0 367.3,178.1 370.0,178.3 372.7,178.2 375.3,177.3 378.0,176.5 380.7,175.5 383.3,175.5 385.3,176.3 390.0,176.5 402.3,176.5 403.7,177.3 414.3,177.3 416.3,178.3 419.0,179.3 422.3,179.7 424.5,180.5 426.7,179.5 431.3,179.5 434.7,180.7 438.0,181.7 441.3,184.0 443.3,184.0 446.7,186.0 449.3,187.3" stroke="#474c68" stroke-width="1.0" fill="none" stroke-linejoin="round"/>
<defs><linearGradient id="gb" x1="0" x2="1"><stop offset="0" stop-color="#0000f0"/><stop offset="0.45" stop-color="#3a3aff"/><stop offset="1" stop-color="#d8dcff"/></linearGradient>
<linearGradient id="gr" x1="0" x2="1"><stop offset="0" stop-color="#e80000"/><stop offset="0.45" stop-color="#ff3030"/><stop offset="1" stop-color="#ffd8d8"/></linearGradient></defs>
<rect x="45.8" y="122.4" width="11.4" height="11" fill="url(#gb)" stroke="#3a3a4a" stroke-width="0.9"/>
<rect x="45.8" y="137.8" width="11.4" height="11" fill="url(#gr)" stroke="#4a3a3a" stroke-width="0.9"/>
<text x="279.22" y="513.0" font-family="Liberation Sans, Arial, sans-serif" font-weight="bold" font-size="9.6" fill="#111" letter-spacing="0.6" stroke="#111" stroke-width="0.3" textLength="41.18" lengthAdjust="spacingAndGlyphs" xml:space="preserve">PR1385</text>
<text transform="rotate(-90)" x="-322.05" y="8.75" font-family="Liberation Sans, Arial, sans-serif" font-weight="bold" font-size="9.6" fill="#111" letter-spacing="0.3" stroke="#111" stroke-width="0.25" textLength="58.56" lengthAdjust="spacingAndGlyphs" xml:space="preserve">Power (hp)</text>
<text x="246.60" y="95.2" font-family="DejaVu Sans, Verdana, sans-serif" font-weight="bold" font-size="9.0" fill="#111" textLength="107.30" lengthAdjust="spacing" xml:space="preserve">DYNOJET RESEARCH</text>
<text x="59.00" y="132.75" font-family="Liberation Sans, Arial, sans-serif" font-weight="bold" font-size="14.4" fill="#000" textLength="74.31" lengthAdjust="spacingAndGlyphs" xml:space="preserve">DELKEVIC</text>
<text x="136.47" y="132.75" font-family="Liberation Sans, Arial, sans-serif" font-weight="bold" font-size="14.4" fill="#000" textLength="49.04" lengthAdjust="spacingAndGlyphs" xml:space="preserve">225MM</text>
<text x="188.74" y="132.75" font-family="Liberation Sans, Arial, sans-serif" font-weight="bold" font-size="14.4" fill="#000" textLength="39.42" lengthAdjust="spacingAndGlyphs" xml:space="preserve">OVAL</text>
<text x="231.66" y="132.75" font-family="Liberation Sans, Arial, sans-serif" font-weight="bold" font-size="14.4" fill="#000" textLength="74.62" lengthAdjust="spacingAndGlyphs" xml:space="preserve">SILENCER</text>
<text x="310.04" y="132.75" font-family="Liberation Sans, Arial, sans-serif" font-weight="bold" font-size="14.4" fill="#000" textLength="27.40" lengthAdjust="spacingAndGlyphs" xml:space="preserve">Max</text>
<text x="341.52" y="132.75" font-family="Liberation Sans, Arial, sans-serif" font-weight="bold" font-size="14.4" fill="#000" textLength="43.05" lengthAdjust="spacingAndGlyphs" xml:space="preserve">Power</text>
<text x="388.85" y="132.75" font-family="Liberation Sans, Arial, sans-serif" font-weight="bold" font-size="14.4" fill="#000" textLength="8.17" lengthAdjust="spacingAndGlyphs" xml:space="preserve">=</text>
<text x="401.52" y="132.75" font-family="Liberation Sans, Arial, sans-serif" font-weight="bold" font-size="14.4" fill="#000" textLength="63.46" lengthAdjust="spacingAndGlyphs" xml:space="preserve">108.06hp</text>
<text x="59.56" y="147.75" font-family="Liberation Sans, Arial, sans-serif" font-weight="bold" font-size="14.4" fill="#000" textLength="67.60" lengthAdjust="spacingAndGlyphs" xml:space="preserve">YAMAHA</text>
<text x="130.76" y="147.75" font-family="Liberation Sans, Arial, sans-serif" font-weight="bold" font-size="14.4" fill="#000" textLength="32.16" lengthAdjust="spacingAndGlyphs" xml:space="preserve">OEM</text>
<text x="167.17" y="147.75" font-family="Liberation Sans, Arial, sans-serif" font-weight="bold" font-size="14.4" fill="#000" textLength="74.11" lengthAdjust="spacingAndGlyphs" xml:space="preserve">SILENCER</text>
<text x="244.52" y="147.75" font-family="Liberation Sans, Arial, sans-serif" font-weight="bold" font-size="14.4" fill="#000" textLength="27.92" lengthAdjust="spacingAndGlyphs" xml:space="preserve">Max</text>
<text x="276.53" y="147.75" font-family="Liberation Sans, Arial, sans-serif" font-weight="bold" font-size="14.4" fill="#000" textLength="42.74" lengthAdjust="spacingAndGlyphs" xml:space="preserve">Power</text>
<text x="324.40" y="147.75" font-family="Liberation Sans, Arial, sans-serif" font-weight="bold" font-size="14.4" fill="#000" textLength="7.59" lengthAdjust="spacingAndGlyphs" xml:space="preserve">=</text>
<text x="337.55" y="147.75" font-family="Liberation Sans, Arial, sans-serif" font-weight="bold" font-size="14.4" fill="#000" textLength="61.61" lengthAdjust="spacingAndGlyphs" xml:space="preserve">105.42hp</text>
<text x="174.72" y="108.6" font-family="DejaVu Sans, Verdana, sans-serif" font-weight="bold" font-size="10.5" fill="#000" textLength="48.26" lengthAdjust="spacingAndGlyphs" xml:space="preserve">YAMAHA</text>
<text x="226.17" y="108.6" font-family="DejaVu Sans, Verdana, sans-serif" font-weight="bold" font-size="10.5" fill="#000" textLength="45.59" lengthAdjust="spacingAndGlyphs" xml:space="preserve">XJR1200</text>
<text x="274.91" y="108.6" font-family="DejaVu Sans, Verdana, sans-serif" font-weight="bold" font-size="10.5" fill="#000" textLength="108.22" lengthAdjust="spacingAndGlyphs" xml:space="preserve">1995-1998/XJR1300</text>
<text x="386.24" y="108.6" font-family="DejaVu Sans, Verdana, sans-serif" font-weight="bold" font-size="10.5" fill="#000" textLength="57.26" lengthAdjust="spacingAndGlyphs" xml:space="preserve">1998-2007</text>
<text x="472.46" y="93.0" font-family="DejaVu Sans, Verdana, sans-serif" font-weight="bold" font-size="9.2" fill="#111" textLength="40.17" lengthAdjust="spacingAndGlyphs" xml:space="preserve">CF: STD</text>
<text x="519.67" y="93.0" font-family="DejaVu Sans, Verdana, sans-serif" font-weight="bold" font-size="9.2" fill="#111" textLength="71.57" lengthAdjust="spacingAndGlyphs" xml:space="preserve">Smoothing: 5</text>
<text x="252.10" y="501.2" font-family="Liberation Sans, Arial, sans-serif" font-weight="bold" font-size="10.3" fill="#111" letter-spacing="0.2" stroke="#111" stroke-width="0.25" textLength="35.14" lengthAdjust="spacingAndGlyphs" xml:space="preserve">Speed</text>
<text x="289.76" y="501.2" font-family="Liberation Sans, Arial, sans-serif" font-weight="bold" font-size="10.3" fill="#111" letter-spacing="0.2" stroke="#111" stroke-width="0.25" textLength="25.32" lengthAdjust="spacingAndGlyphs" xml:space="preserve">MPH</text>
<text x="317.66" y="501.2" font-family="Liberation Sans, Arial, sans-serif" font-weight="bold" font-size="10.3" fill="#111" letter-spacing="0.2" stroke="#111" stroke-width="0.25" textLength="32.59" lengthAdjust="spacingAndGlyphs" xml:space="preserve">(KPH)</text>
<text x="29.14" y="486.7" font-family="Liberation Sans, Arial, sans-serif" font-weight="normal" font-size="9.5" fill="#222" textLength="27.67" lengthAdjust="spacingAndGlyphs" xml:space="preserve">40(64)</text>
<text x="80.05" y="486.7" font-family="Liberation Sans, Arial, sans-serif" font-weight="normal" font-size="9.5" fill="#222" textLength="27.26" lengthAdjust="spacingAndGlyphs" xml:space="preserve">50(80)</text>
<text x="138.15" y="486.7" font-family="Liberation Sans, Arial, sans-serif" font-weight="normal" font-size="9.5" fill="#222" textLength="26.64" lengthAdjust="spacingAndGlyphs" xml:space="preserve">60(96)</text>
<text x="189.70" y="486.6" font-family="Liberation Sans, Arial, sans-serif" font-weight="normal" font-size="9.5" fill="#222" textLength="32.02" lengthAdjust="spacingAndGlyphs" xml:space="preserve">70(112)</text>
<text x="243.81" y="486.9" font-family="Liberation Sans, Arial, sans-serif" font-weight="normal" font-size="9.5" fill="#222" textLength="31.69" lengthAdjust="spacingAndGlyphs" xml:space="preserve">80(128)</text>
<text x="295.75" y="486.9" font-family="Liberation Sans, Arial, sans-serif" font-weight="normal" font-size="9.5" fill="#222" textLength="31.76" lengthAdjust="spacingAndGlyphs" xml:space="preserve">90(144)</text>
<text x="348.68" y="486.9" font-family="Liberation Sans, Arial, sans-serif" font-weight="normal" font-size="9.5" fill="#222" textLength="36.93" lengthAdjust="spacingAndGlyphs" xml:space="preserve">100(160)</text>
<text x="401.87" y="486.9" font-family="Liberation Sans, Arial, sans-serif" font-weight="normal" font-size="9.5" fill="#222" textLength="36.49" lengthAdjust="spacingAndGlyphs" xml:space="preserve">110(175)</text>
<text x="452.69" y="484.8" font-family="Liberation Sans, Arial, sans-serif" font-weight="normal" font-size="9.5" fill="#222" textLength="36.45" lengthAdjust="spacingAndGlyphs" xml:space="preserve">120(192)</text>
<text x="508.23" y="484.8" font-family="Liberation Sans, Arial, sans-serif" font-weight="normal" font-size="9.5" fill="#222" textLength="36.93" lengthAdjust="spacingAndGlyphs" xml:space="preserve">130(208)</text>
<text x="554.09" y="484.8" font-family="Liberation Sans, Arial, sans-serif" font-weight="normal" font-size="9.5" fill="#222" textLength="36.51" lengthAdjust="spacingAndGlyphs" xml:space="preserve">140(224)</text>
<text x="19.97" y="121.3" font-family="Liberation Sans, Arial, sans-serif" font-weight="normal" font-size="10" fill="#222" textLength="15.93" lengthAdjust="spacingAndGlyphs" xml:space="preserve">120</text>
<text x="20.81" y="170" font-family="Liberation Sans, Arial, sans-serif" font-weight="normal" font-size="10" fill="#222" textLength="14.62" lengthAdjust="spacingAndGlyphs" xml:space="preserve">110</text>
<text x="19.97" y="220.7" font-family="Liberation Sans, Arial, sans-serif" font-weight="normal" font-size="10" fill="#222" textLength="15.93" lengthAdjust="spacingAndGlyphs" xml:space="preserve">100</text>
<text x="24.53" y="270.5" font-family="Liberation Sans, Arial, sans-serif" font-weight="normal" font-size="10" fill="#222" textLength="11.10" lengthAdjust="spacingAndGlyphs" xml:space="preserve">90</text>
<text x="24.49" y="334.8" font-family="Liberation Sans, Arial, sans-serif" font-weight="normal" font-size="10" fill="#222" textLength="11.13" lengthAdjust="spacingAndGlyphs" xml:space="preserve">80</text>
<text x="23.53" y="378" font-family="Liberation Sans, Arial, sans-serif" font-weight="normal" font-size="10" fill="#222" textLength="12.13" lengthAdjust="spacingAndGlyphs" xml:space="preserve">70</text>
<text x="24.53" y="425.8" font-family="Liberation Sans, Arial, sans-serif" font-weight="normal" font-size="10" fill="#222" textLength="10.99" lengthAdjust="spacingAndGlyphs" xml:space="preserve">60</text>
<text x="24.35" y="472.8" font-family="Liberation Sans, Arial, sans-serif" font-weight="normal" font-size="10" fill="#222" textLength="11.18" lengthAdjust="spacingAndGlyphs" xml:space="preserve">50</text>
</svg></body></html>
